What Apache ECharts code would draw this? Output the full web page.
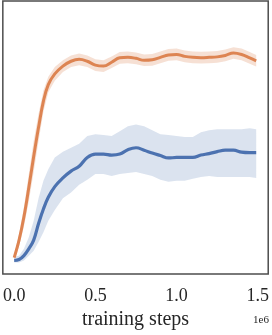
<!DOCTYPE html>
<html><head><meta charset="utf-8">
<script src="https://cdn.jsdelivr.net/npm/echarts@6/dist/echarts.min.js"></script>
<style>html,body{margin:0;padding:0;background:#fff}#c{width:272px;height:335px}</style>
</head><body><div id="c"></div>
<script>
// training steps (in units of 1e6)
const steps = [0,0.03,0.06,0.09,0.12,0.15,0.18,0.21,0.25,0.3,0.35,0.4,0.45,0.5,0.55,0.6,0.65,0.7,0.75,0.8,0.85,0.9,0.95,1.0,1.05,1.1,1.15,1.2,1.25,1.3,1.35,1.4,1.45,1.49];
const orangeMean = [17,35,59,89,121,151,178,195,206,214,219,221,219,215,214,218,222.5,223,222,220,220.5,223,225.5,226,224,223,222.7,223,223.5,225,227.5,226,222.5,219.5];
const orangeLow  = [14,29,49,75,105,137,167,187,199,208,213,215,213,209,208,212,216.5,217,216,214,214.5,217,219.5,220,218,217,216.7,217,217.5,219,221.5,220,216.5,213.5];
const orangeHigh = [20,41,69,103,137,165,189,203,213,220,225,227,225,221,220,224,228.5,229,228,226,226.5,229,231.5,232,230,229,228.7,229,229.5,231,233.5,232,228.5,225.5];
const blueMean = [14,15,19,26,35,52,67,79,90,99,106,111,120,123.5,123.5,122.5,123.5,128,130,127.5,124.5,122,119.5,120,120,120,122.5,124,126,127.5,127.5,125.5,125,125];
const blueLow  = [12,12,14,19,24,33,43,55,66,78,84,92,97,103,103,101,103,104,105,103,101,97,95,96,96,98,100,101,100,100,100,100,100,99];
const blueHigh = [18,19,26,38,55,78,96,108,120,126,130,134,142,144,143,142,147,152,154,152,148,144,143,142,141,141,146,148,149,149,149,149,150,149];
const tickValues = [0, 0.5, 1.0, 1.5];
const xLabel = 'training steps';
const offsetText = '1e6';

const pairs = (arr) => steps.map((x, i) => [x, arr[i]]);
const BLUE = '#4c72b0', ORANGE = '#dd8452';
const font = 'Liberation Serif';

function bandSeries(lo, hi, fill, smooth) {
  return {
    type: 'custom', silent: true, clip: true,
    data: [[0, 0]], encode: {x: 0, y: 1},
    renderItem: (params, api) => {
      const top = steps.map((x, i) => api.coord([x, hi[i]]));
      const bot = steps.map((x, i) => api.coord([x, lo[i]])).reverse();
      return {type: 'polygon', shape: {points: top.concat(bot), smooth: smooth}, style: {fill: fill}};
    }
  };
}

const chart = echarts.init(document.getElementById('c'), null, {renderer: 'canvas'});
chart.setOption({
  animation: false,
  backgroundColor: '#fff',
  grid: {left: 1, right: 2.5, top: 1, bottom: 53, show: true, borderColor: '#4d4d4d', borderWidth: 1.5},
  xAxis: {
    type: 'value', min: -0.07, max: 1.564,
    axisLine: {show: false}, axisTick: {show: false}, splitLine: {show: false},
    axisLabel: {customValues: tickValues, formatter: v => v.toFixed(1), fontFamily: font, fontSize: 18, color: '#262626', margin: 13},
    name: xLabel, nameLocation: 'middle', nameGap: 34,
    nameTextStyle: {fontFamily: font, fontSize: 20, color: '#262626'}
  },
  yAxis: {type: 'value', min: 0, max: 281, show: false},
  graphic: [{type: 'text', right: 3, top: 315, style: {text: offsetText, fontFamily: font, fontSize: 11, fill: '#262626'}}],
  series: [
    bandSeries(blueLow, blueHigh, 'rgba(76,114,176,0.2)', 0),
    bandSeries(orangeLow, orangeHigh, 'rgba(221,132,82,0.25)', 0),
    {type: 'line', data: pairs(blueMean), showSymbol: false, smooth: 0.4, lineStyle: {color: BLUE, width: 3.2}},
    {type: 'line', data: pairs(orangeMean), showSymbol: false, smooth: 0.4, lineStyle: {color: ORANGE, width: 3}}
  ]
});
</script></body></html>
